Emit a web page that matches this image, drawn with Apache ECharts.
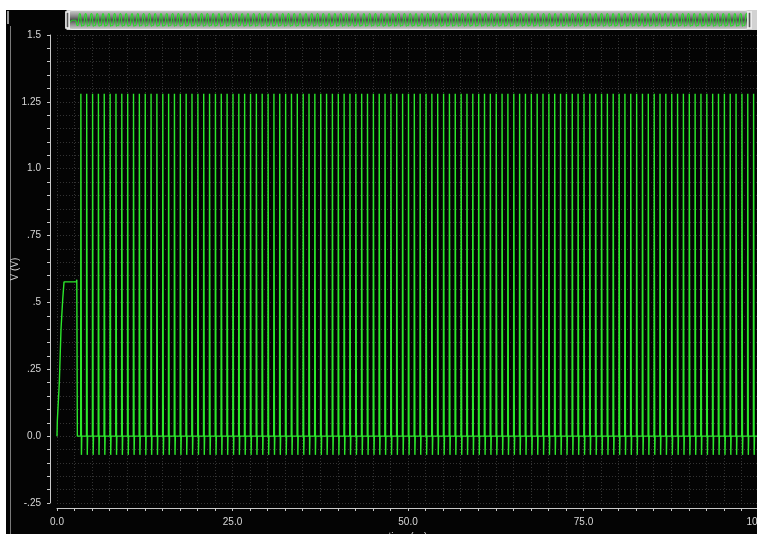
<!DOCTYPE html>
<html><head><meta charset="utf-8">
<script src="https://cdn.jsdelivr.net/npm/echarts@6/dist/echarts.min.js"></script>
<style>html,body{margin:0;padding:0;background:#fff;overflow:hidden}#c{width:757px;height:534px}</style>
</head><body><div id="c"></div>
<script>
// ---- data ----
const rampTime  = [0, 0.05, 0.33, 0.57, 0.81, 1.0, 2.75, 2.82, 2.86, 2.9];
const rampValue = [0, 0.06, 0.2, 0.4, 0.51, 0.577, 0.577, 0.585, 0.58, 0];
const pulseStart = [
 3.37, 4.20, 5.04, 5.87, 6.70, 7.54, 8.37, 9.20, 10.04, 10.87, 11.70, 12.54,
 13.37, 14.20, 15.04, 15.87, 16.70, 17.54, 18.37, 19.20, 20.04, 20.87, 21.70, 22.54,
 23.37, 24.20, 25.04, 25.87, 26.70, 27.54, 28.37, 29.20, 30.04, 30.87, 31.70, 32.54,
 33.37, 34.20, 35.04, 35.87, 36.70, 37.54, 38.37, 39.20, 40.04, 40.87, 41.70, 42.54,
 43.37, 44.20, 45.04, 45.87, 46.70, 47.54, 48.37, 49.20, 50.04, 50.87, 51.70, 52.54,
 53.37, 54.20, 55.04, 55.87, 56.70, 57.54, 58.37, 59.20, 60.04, 60.87, 61.70, 62.54,
 63.37, 64.20, 65.04, 65.87, 66.70, 67.54, 68.37, 69.20, 70.04, 70.87, 71.70, 72.54,
 73.37, 74.20, 75.04, 75.87, 76.70, 77.54, 78.37, 79.20, 80.04, 80.87, 81.70, 82.54,
 83.37, 84.20, 85.04, 85.87, 86.70, 87.54, 88.37, 89.20, 90.04, 90.87, 91.70, 92.54,
 93.37, 94.20, 95.04, 95.87, 96.70, 97.54, 98.37, 99.20
];
const pulsePeak = [
 1.28,1.28,1.28,1.28,1.28,1.28,1.28,1.28,1.28,1.28,1.28,1.28,
 1.28,1.28,1.28,1.28,1.28,1.28,1.28,1.28,1.28,1.28,1.28,1.28,
 1.28,1.28,1.28,1.28,1.28,1.28,1.28,1.28,1.28,1.28,1.28,1.28,
 1.28,1.28,1.28,1.28,1.28,1.28,1.28,1.28,1.28,1.28,1.28,1.28,
 1.28,1.28,1.28,1.28,1.28,1.28,1.28,1.28,1.28,1.28,1.28,1.28,
 1.28,1.28,1.28,1.28,1.28,1.28,1.28,1.28,1.28,1.28,1.28,1.28,
 1.28,1.28,1.28,1.28,1.28,1.28,1.28,1.28,1.28,1.28,1.28,1.28,
 1.28,1.28,1.28,1.28,1.28,1.28,1.28,1.28,1.28,1.28,1.28,1.28,
 1.28,1.28,1.28,1.28,1.28,1.28,1.28,1.28,1.28,1.28,1.28,1.28,
 1.28,1.28,1.28,1.28,1.28,1.28,1.28,1.28
];
const pulseLow = [
 -0.07,-0.07,-0.07,-0.07,-0.07,-0.07,-0.07,-0.07,-0.07,-0.07,-0.07,-0.07,
 -0.07,-0.07,-0.07,-0.07,-0.07,-0.07,-0.07,-0.07,-0.07,-0.07,-0.07,-0.07,
 -0.07,-0.07,-0.07,-0.07,-0.07,-0.07,-0.07,-0.07,-0.07,-0.07,-0.07,-0.07,
 -0.07,-0.07,-0.07,-0.07,-0.07,-0.07,-0.07,-0.07,-0.07,-0.07,-0.07,-0.07,
 -0.07,-0.07,-0.07,-0.07,-0.07,-0.07,-0.07,-0.07,-0.07,-0.07,-0.07,-0.07,
 -0.07,-0.07,-0.07,-0.07,-0.07,-0.07,-0.07,-0.07,-0.07,-0.07,-0.07,-0.07,
 -0.07,-0.07,-0.07,-0.07,-0.07,-0.07,-0.07,-0.07,-0.07,-0.07,-0.07,-0.07,
 -0.07,-0.07,-0.07,-0.07,-0.07,-0.07,-0.07,-0.07,-0.07,-0.07,-0.07,-0.07,
 -0.07,-0.07,-0.07,-0.07,-0.07,-0.07,-0.07,-0.07,-0.07,-0.07,-0.07,-0.07,
 -0.07,-0.07,-0.07,-0.07,-0.07,-0.07,-0.07,-0.07
];
const xTickLabels = {0:'0.0', 25:'25.0', 50:'50.0', 75:'75.0', 100:'100.0'};
const yTickLabels = {150:'1.5', 125:'1.25', 100:'1.0', 75:'.75', 50:'.5', 25:'.25', 0:'0.0', '-25':'-.25'};
const xName = 'time (ns)';
const yName = 'V (V)';

// ---- build the waveform ----
const wave = [];
for (let i = 0; i < rampTime.length; i++) wave.push([rampTime[i], rampValue[i]]);
for (let k = 0; k < pulseStart.length; k++) {
  const t = pulseStart[k];
  wave.push([t, 0], [t + 0.03, pulsePeak[k]], [t + 0.08, pulsePeak[k]], [t + 0.11, pulseLow[k]], [t + 0.16, 0]);
}
wave.push([100, 0]);

const FONT = 'Liberation Sans';
const chart = echarts.init(document.getElementById('c'), null, {renderer: 'canvas'});
chart.setOption({
  backgroundColor: '#040404',
  animation: false,
  grid: {left: 57, top: 35, width: 702, height: 468, outerBoundsMode: 'none', containLabel: false},
  xAxis: {
    type: 'value', min: 0, max: 100, interval: 2.5, offset: 5,
    name: xName, nameLocation: 'middle', nameGap: 24, nameMoveOverlap: false,
    nameTextStyle: {color: '#cfcfcf', fontFamily: FONT, fontSize: 10},
    axisLine: {show: true, onZero: false, lineStyle: {color: '#c8c8c8', width: 1}},
    axisTick: {show: true, length: 3, lineStyle: {color: '#c8c8c8'}},
    axisLabel: {color: '#d8d8d8', fontFamily: FONT, fontSize: 10, margin: 9,
      formatter: v => { const r = Math.round(v * 10); return (r % 250 === 0) ? (xTickLabels[r / 10] || '') : ''; }},
    splitLine: {show: true, lineStyle: {color: '#333333', type: [1, 2], width: 1}}
  },
  yAxis: {
    type: 'value', min: -0.25, max: 1.5, interval: 0.05, offset: 7,
    name: yName, nameLocation: 'middle', nameGap: 30, nameRotate: 90, nameMoveOverlap: false,
    nameTextStyle: {color: '#cfcfcf', fontFamily: FONT, fontSize: 10},
    axisLine: {show: true, onZero: false, lineStyle: {color: '#c8c8c8', width: 1}},
    axisTick: {show: true, length: 3, lineStyle: {color: '#c8c8c8'}},
    axisLabel: {color: '#d8d8d8', fontFamily: FONT, fontSize: 10, margin: 9,
      formatter: v => { const r = Math.round(v * 100); return yTickLabels[r] || ''; }},
    splitLine: {show: true, lineStyle: {color: '#333333', type: [1, 2], width: 1}}
  },
  dataZoom: [{
    type: 'slider', xAxisIndex: 0, start: 0, end: 100, filterMode: 'none',
    top: 10, height: 20, left: 64, right: 9,
    backgroundColor: new echarts.graphic.LinearGradient(0, 0, 0, 1, [
      {offset: 0, color: '#d5d5d5'}, {offset: 0.3, color: '#8a8a8a'},
      {offset: 0.5, color: '#4a4a4a'}, {offset: 0.7, color: '#8a8a8a'}, {offset: 1, color: '#d5d5d5'}]),
    borderColor: '#eeeeee', borderRadius: 5,
    fillerColor: 'rgba(0,0,0,0)',
    dataBackground: {lineStyle: {color: '#22e022', width: 1, opacity: 1}, areaStyle: {opacity: 0}},
    selectedDataBackground: {lineStyle: {color: '#22e022', width: 1, opacity: 1}, areaStyle: {opacity: 0}},
    handleIcon: 'path://M0,0 L4,0 L4,20 L0,20 Z', handleSize: '80%',
    handleStyle: {color: '#555', borderColor: '#f4f4f4', borderWidth: 1.5},
    moveHandleSize: 0, showDetail: false, brushSelect: false, zoomLock: true
  }],
  graphic: [
    {type: 'rect', shape: {x: 0, y: 0, width: 757, height: 10}, style: {fill: '#ffffff'}, silent: true},
    {type: 'rect', shape: {x: 0, y: 0, width: 6, height: 534}, style: {fill: '#ffffff'}, silent: true},
    {type: 'rect', shape: {x: 748, y: 10, width: 9, height: 20}, style: {fill: '#d2d2d2'}, silent: true},
    {type: 'rect', shape: {x: 7, y: 11, width: 2, height: 13}, style: {fill: '#9a9a9a'}, silent: true},
    {type: 'line', shape: {x1: 10.5, y1: 26, x2: 10.5, y2: 534}, style: {stroke: '#7a7a7a', lineWidth: 1}, silent: true}
  ],
  series: [{
    type: 'line', data: wave, showSymbol: false, symbol: 'none', sampling: null,
    lineStyle: {color: '#2ce82c', width: 1.4}, silent: true
  }]
});
</script></body></html>
